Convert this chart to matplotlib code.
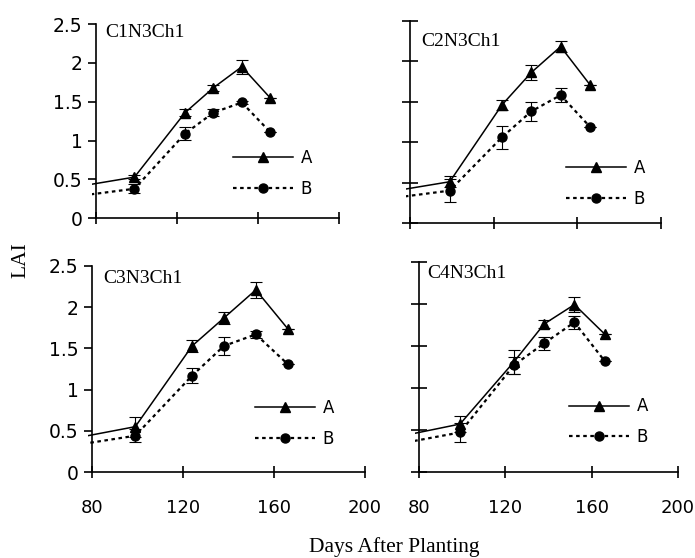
import matplotlib
matplotlib.use("Agg")
import matplotlib.pyplot as plt

# ---------------- data ----------------
days = [0, 99, 124, 138, 152, 166]

panel_titles = ["C1N3Ch1", "C2N3Ch1", "C3N3Ch1", "C4N3Ch1"]

c1_a = [0.10, 0.53, 1.36, 1.68, 1.95, 1.55]
c1_a_err = [0, 0.03, 0.05, 0.04, 0.09, 0.0]
c1_b = [0.05, 0.38, 1.09, 1.36, 1.49, 1.11]
c1_b_err = [0, 0.06, 0.08, 0.05, 0.02, 0.0]

c2_a = [0.085, 0.51, 1.46, 1.86, 2.18, 1.71]
c2_a_err = [0, 0.07, 0.06, 0.09, 0.07, 0.0]
c2_b = [0.07, 0.40, 1.06, 1.38, 1.58, 1.19]
c2_b_err = [0, 0.14, 0.14, 0.12, 0.09, 0.0]

c3_a = [0.03, 0.55, 1.53, 1.87, 2.21, 1.74]
c3_a_err = [0, 0.12, 0.07, 0.07, 0.10, 0.0]
c3_b = [0.015, 0.44, 1.17, 1.53, 1.67, 1.31]
c3_b_err = [0, 0.08, 0.09, 0.11, 0.04, 0.0]

c4_a = [0.05, 0.57, 1.31, 1.76, 1.99, 1.64]
c4_a_err = [0, 0.10, 0.14, 0.05, 0.09, 0.0]
c4_b = [0.0, 0.47, 1.27, 1.53, 1.78, 1.32]
c4_b_err = [0, 0.11, 0.10, 0.08, 0.08, 0.0]

series_names = ["A", "B"]
x_ticks = [80, 120, 160, 200]
x_tick_labels = ["80", "120", "160", "200"]
y_ticks = [0, 0.5, 1, 1.5, 2, 2.5]
y_tick_labels = ["0", "0.5", "1", "1.5", "2", "2.5"]

x_label = "Days After Planting"
y_label = "LAI"

# ---------------- layout ----------------
W, H = 695, 558
fig = plt.figure(figsize=(W / 100, H / 100), dpi=100)

def px_axes(x0, x1, ytop, ybot):
    return fig.add_axes([x0 / W, 1 - ybot / H, (x1 - x0) / W, (ybot - ytop) / H])

panels = [
    dict(box=(91.95, 339, 24, 218.3), left=True, bottom=False,
         title=(105, 37), leg=(233, 173.5),
         a=c1_a, ae=c1_a_err, b=c1_b, be=c1_b_err),
    dict(box=(405.8, 661, 20.7, 223), left=False, bottom=False,
         title=(421, 46), leg=(566, 183.3),
         a=c2_a, ae=c2_a_err, b=c2_b, be=c2_b_err),
    dict(box=(87.5, 365, 266, 472), left=True, bottom=True,
         title=(103, 283), leg=(255, 423.3),
         a=c3_a, ae=c3_a_err, b=c3_b, be=c3_b_err),
    dict(box=(414.7, 678, 261.7, 472), left=False, bottom=True,
         title=(427, 278), leg=(569, 421.7),
         a=c4_a, ae=c4_a_err, b=c4_b, be=c4_b_err),
]

serif = ["Liberation Serif", "DejaVu Serif"]
sans = ["DejaVu Sans"]

for i, p in enumerate(panels):
    x0, x1, yt, yb = p["box"]
    ax = px_axes(x0, x1, yt, yb)
    ax.patch.set_alpha(0)
    ax.set_xlim(78, 200)
    ax.set_ylim(0, 2.5)
    for s in ("top", "right"):
        ax.spines[s].set_visible(False)
    ax.spines["left"].set_position(("data", 80))
    ax.spines["bottom"].set_bounds(80, 200)
    ax.spines["left"].set_bounds(0, 2.5)
    for s in ("left", "bottom"):
        ax.spines[s].set_linewidth(1.2)

    la, = ax.plot(days, p["a"], color="black", lw=1.1, marker="^", ms=7.5,
                  markevery=slice(1, None), label=series_names[0])
    lb, = ax.plot(days, p["b"], color="black", lw=1.6, ls=(0, (1.6, 1.6)),
                  marker="o", ms=6.5, markevery=slice(1, None),
                  label=series_names[1])
    ax.errorbar(days[1:], p["a"][1:], yerr=p["ae"][1:], fmt="none",
                ecolor="black", elinewidth=0.8, capsize=4, capthick=0.8)
    ax.errorbar(days[1:], p["b"][1:], yerr=p["be"][1:], fmt="none",
                ecolor="black", elinewidth=0.8, capsize=4, capthick=0.8)

    ax.set_xticks(x_ticks)
    ax.set_yticks(y_ticks)
    ax.tick_params(axis="x", direction="inout", length=9, width=1.2,
                   labelsize=13, pad=15, labelbottom=p["bottom"])
    if p["bottom"]:
        ax.set_xticklabels(x_tick_labels)
    if p["left"]:
        ax.tick_params(axis="y", direction="out", length=5.8, width=1.2,
                       labelsize=13.5, pad=4)
        ax.set_yticklabels(y_tick_labels)
    else:
        ax.tick_params(axis="y", direction="inout", length=11, width=1.2,
                       labelleft=False)
    for t in ax.get_xticklabels() + ax.get_yticklabels():
        t.set_family(sans)

    tx, ty = p["title"]
    fig.text(tx / W, 1 - ty / H, panel_titles[i], family=serif, fontsize=14,
             ha="left", va="baseline")

    lx, ly = p["leg"]
    ax.legend(handles=[la, lb], loc="center left",
              bbox_to_anchor=(lx / W, 1 - ly / H), bbox_transform=fig.transFigure,
              frameon=False, handlelength=3.6, handletextpad=0.45,
              borderpad=0, borderaxespad=0, labelspacing=0.75, numpoints=1,
              prop={"family": sans, "size": 12})

fig.text(394 / W, 1 - 552 / H, x_label, family=serif, fontsize=15.5,
         ha="center", va="baseline")
fig.text(21 / W, 1 - 260 / H, y_label, family=serif, fontsize=15.5,
         ha="center", va="center", rotation=90)

fig.savefig("out.png", dpi=100)
